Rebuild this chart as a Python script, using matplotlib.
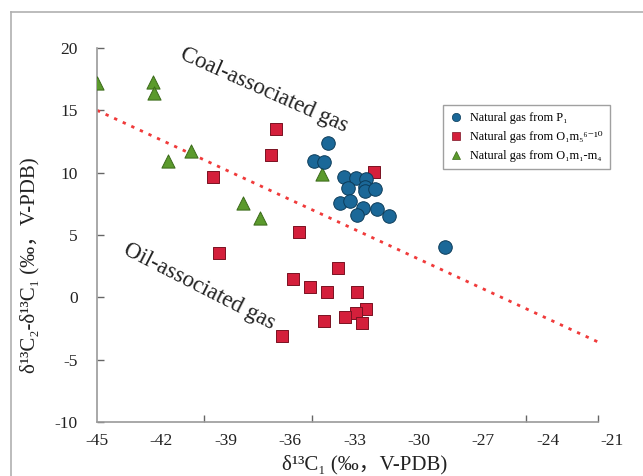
import matplotlib
matplotlib.use("Agg")
import matplotlib.pyplot as plt
from matplotlib.lines import Line2D
from matplotlib.transforms import ScaledTranslation

# ---- data ----
p1_x = [-34.25, -34.9, -34.4, -33.48, -32.93, -32.47, -33.32, -32.5, -32.5, -32.05,
        -33.66, -33.2, -32.58, -31.97, -32.86, -31.41, -28.8]
p1_y = [12.36, 10.96, 10.83, 9.68, 9.55, 9.47, 8.8, 8.88, 8.53, 8.67,
        7.55, 7.7, 7.2, 7.1, 6.58, 6.55, 4.0]

m5_x = [-36.66, -36.9, -39.6, -39.3, -35.6, -32.1, -33.76, -35.85, -35.07, -34.27,
        -32.86, -32.47, -32.93, -33.44, -34.42, -32.64, -36.38]
m5_y = [13.5, 11.4, 9.65, 3.56, 5.24, 10.05, 2.33, 1.45, 0.83, 0.43,
        0.43, -0.9, -1.23, -1.55, -1.9, -2.03, -3.1]

m14_x = [-45.0, -42.4, -42.35, -41.7, -40.6, -38.2, -37.4, -34.5]
m14_y = [17.2, 17.3, 16.4, 10.9, 11.7, 7.6, 6.4, 9.9]

line_x = [-45.0, -21.65]
line_y = [15.0, -3.58]

xtick_labels = [-45, -42, -39, -36, -33, -30, -27, -24, -21]
xtick_marks = [-40, -35, -30, -25, -21.65]
yticks = [-10, -5, 0, 5, 10, 15, 20]

labels = ["Natural gas from P\u2081",
          "Natural gas from O\u2081m\u2085\u2076\u207b\u00b9\u2070",
          "Natural gas from O\u2081m\u2081-m\u2084"]

serif = ["Liberation Serif", "DejaVu Serif", "Noto Sans CJK SC"]
plt.rcParams["font.family"] = serif

W, H = 643, 476
fig = plt.figure(figsize=(W / 100, H / 100), dpi=100)
L, R, B, T = 97, 598, 422, 48
ax = fig.add_axes([L / W, 1 - B / H, (R - L) / W, (B - T) / H])

spine_c = "#9a9a9a"
ax.plot(line_x, line_y, linestyle=(0, (1.2, 2.2)), color="#f03a3a", lw=2.0, zorder=2)

ax.scatter(m14_x, m14_y, marker="^", s=90, c="#5b9a2c", edgecolors="#3b6a1a", linewidths=0.7, zorder=3)
ax.scatter(m5_x, m5_y, marker="s", s=70, c="#d41f3b", edgecolors="#7a1222", linewidths=0.7, zorder=3)
ax.scatter(p1_x, p1_y, marker="o", s=95, c="#1b6898", edgecolors="#0c3c5a", linewidths=0.7, zorder=4)

ax.set_xlim(-45, -21.65)
ax.set_ylim(-10, 20)

for s in ["top", "right"]:
    ax.spines[s].set_visible(False)
for s in ["left", "bottom"]:
    ax.spines[s].set_color(spine_c)
    ax.spines[s].set_linewidth(1.2)

shown = [v for v in xtick_labels if -45 <= v <= -21.65]
ax.set_xticks(shown)
ax.set_xticklabels([str(v) for v in shown])
ax.set_xticks(xtick_marks, minor=True)
ax.tick_params(axis="x", which="major", length=0, pad=8, labelsize=12.5, labelcolor="#222222")
ax.tick_params(axis="x", which="minor", direction="in", length=5, width=1.0, color="#666666")
ax.text(-21, -10, "-21", ha="center", va="top", fontsize=12.5, color="#222222", clip_on=False,
        transform=ax.transData + ScaledTranslation(0, -8 / 72, fig.dpi_scale_trans))

ax.set_yticks(yticks)
ax.set_yticklabels([str(v) for v in yticks])
ax.tick_params(axis="y", direction="in", length=5, width=1.0, color="#666666",
               pad=14, labelsize=12.5, labelcolor="#222222")

ax.text(-37.2, 16.6, "Coal-associated gas", rotation=-24, ha="center", va="center",
        fontsize=16.5, color="#222222", rotation_mode="anchor")
ax.text(-40.25, 0.9, "Oil-associated gas", rotation=-27, ha="center", va="center",
        fontsize=16.5, color="#222222", rotation_mode="anchor")

handles = [Line2D([], [], marker="o", ls="none", ms=6, mfc="#1b6898", mec="#0c3c5a", mew=0.5),
           Line2D([], [], marker="s", ls="none", ms=5.5, mfc="#d41f3b", mec="#7a1222", mew=0.5),
           Line2D([], [], marker="^", ls="none", ms=6, mfc="#5b9a2c", mec="#3b6a1a", mew=0.5)]
leg = ax.legend(handles, labels, loc="upper left",
                bbox_to_anchor=((443 - L) / (R - L), 1 - (105 - T) / (B - T)),
                fontsize=8.8, frameon=True, fancybox=False, borderpad=0.6,
                labelspacing=0.55, handletextpad=0.6, handlelength=1.0, borderaxespad=0)
leg.get_frame().set_edgecolor("#888888")
leg.get_frame().set_linewidth(1.0)

fig.text(365 / W, 1 - 465 / H, "δ\u00b9\u00b3C\u2081 (‰，V-PDB)", ha="center", va="center",
         fontsize=15, color="#222222")
fig.text(30 / W, 1 - 265 / H, "δ\u00b9\u00b3C\u2082-δ\u00b9\u00b3C\u2081 (‰，V-PDB)", ha="center", va="center",
         rotation=90, fontsize=15, color="#222222")

# figure border (top and left)
fig.add_artist(Line2D([11 / W, 1], [1 - 12 / H, 1 - 12 / H], transform=fig.transFigure,
                      color="#b0b0b0", lw=1.2))
fig.add_artist(Line2D([11 / W, 11 / W], [0, 1 - 12 / H], transform=fig.transFigure,
                      color="#b0b0b0", lw=1.2))

fig.savefig("out.png", dpi=100)
